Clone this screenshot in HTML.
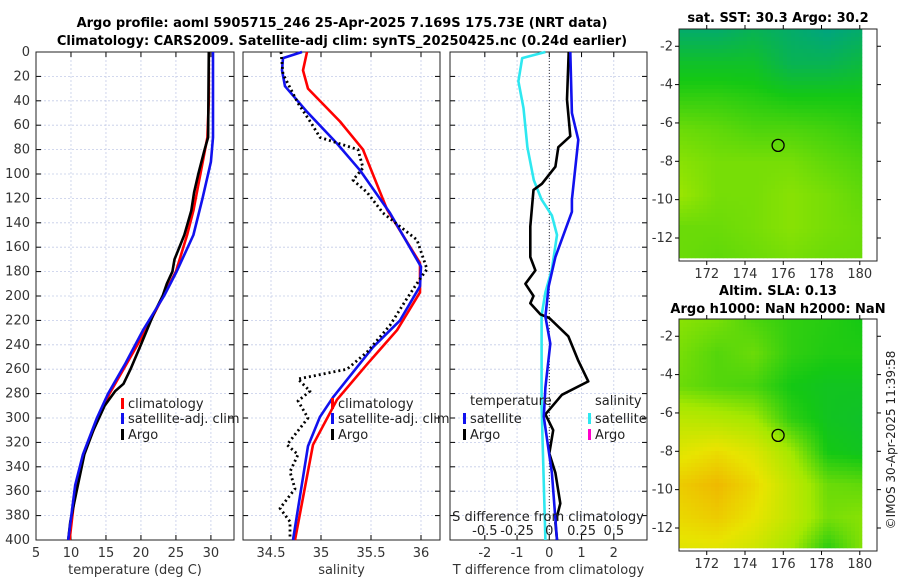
<!DOCTYPE html>
<html><head><meta charset="utf-8"><style>
html,body{margin:0;padding:0;background:#fff;width:900px;height:580px;overflow:hidden}
svg text{font-family:"DejaVu Sans","Liberation Sans",sans-serif}
</style></head><body>
<svg id="fig" width="900" height="580" viewBox="0 0 900 580" xmlns="http://www.w3.org/2000/svg">
<text x="342" y="27" text-anchor="middle" font-size="13" font-weight="bold">Argo profile: aoml 5905715_246 25-Apr-2025 7.169S 175.73E (NRT data)</text>
<text x="342" y="45" text-anchor="middle" font-size="13" font-weight="bold">Climatology: CARS2009. Satellite-adj clim: synTS_20250425.nc (0.24d earlier)</text>
<text x="778" y="22" text-anchor="middle" font-size="13" font-weight="bold">sat. SST: 30.3 Argo: 30.2</text>
<text x="778" y="295" text-anchor="middle" font-size="13" font-weight="bold">Altim. SLA: 0.13</text>
<text x="778" y="313" text-anchor="middle" font-size="13" font-weight="bold">Argo h1000: NaN h2000: NaN</text>
<text transform="translate(895,440) rotate(-90)" text-anchor="middle" font-size="12" fill="#222">©IMOS 30-Apr-2025 11:39:58</text>
<g id="plots"></g>
</svg>
<script>
// ---- data ----
const depthTicks=[0,20,40,60,80,100,120,140,160,180,200,220,240,260,280,300,320,340,360,380,400];
const tempTicks=[5,10,15,20,25,30];
const salTicks=[34.5,35,35.5,36];
const salTickLabels=["34.5","35","35.5","36"];
const tdiffTicks=[-2,-1,0,1,2];
const sdiffTicks=[-0.5,-0.25,0,0.25,0.5];
const sdiffTickLabels=["-0.5","-0.25","0","0.25","0.5"];

const tClimDepth=[0,40,70,100,130,150,180,200,230,260,280,300,330,360,400];
const tClimVal=[29.7,29.7,29.5,28.5,27.5,26.6,25.0,23.2,20.5,17.5,15.5,13.9,11.8,10.6,9.8];
const tSatDepth=[0,70,90,120,150,180,200,228,255,280,300,330,355,400];
const tSatVal=[30.3,30.3,30.0,28.8,27.5,25.1,23.3,20.3,17.8,15.3,13.7,11.7,10.6,9.6];
const tArgoDepth=[0,70,80,100,115,130,150,170,180,190,200,215,240,260,272,278,290,310,330,360,385,400];
const tArgoVal=[29.7,29.6,29.1,28.2,27.6,27.2,26.2,24.8,24.5,23.7,23.1,21.8,20.0,18.5,17.5,16.3,14.8,13.2,11.9,10.8,9.9,9.6];

const sClimDepth=[0,15,30,57,80,129,173,197,228,256,285,322,400];
const sClimVal=[34.86,34.82,34.87,35.19,35.42,35.66,35.99,35.99,35.76,35.46,35.16,34.92,34.74];
const sSatDepth=[0,5,15,28,49,75,97,132,176,192,220,242,283,299,323,400];
const sSatVal=[34.81,34.62,34.61,34.64,34.86,35.16,35.39,35.69,36.0,35.99,35.79,35.52,35.12,34.99,34.87,34.72];
const sArgoDepth=[0,18,42,58,70,80,95,105,115,132,154,178,186,202,224,246,260,268,278,286,300,322,330,344,358,374,385,400];
const sArgoVal=[34.6,34.62,34.77,34.9,34.99,35.37,35.42,35.32,35.46,35.62,35.96,36.06,35.99,35.86,35.69,35.46,35.26,34.77,34.89,34.77,34.87,34.66,34.77,34.69,34.74,34.59,34.69,34.69];

const dSatTDepth=[0,50,72,121,131,168,192,217,239,275,299,345,400];
const dSatTVal=[0.65,0.7,0.9,0.7,0.7,0.19,-0.02,-0.12,0.03,-0.12,-0.17,0.08,0.24];
const dArgoTDepth=[0,39,69,78,94,108,113,143,168,179,190,200,206,215,218,233,253,270,281,297,310,329,345,370,386,400];
const dArgoTVal=[0.6,0.55,0.65,0.28,0.19,-0.23,-0.49,-0.59,-0.59,-0.43,-0.74,-0.49,-0.59,-0.28,0,0.59,0.9,1.21,0.39,-0.12,0.12,0,0.19,0.34,0.19,0.24];
const dSatSDepth=[0,5,24,46,78,105,121,134,150,178,197,216,290,400];
const dSatSVal=[-0.03,-0.21,-0.24,-0.2,-0.17,-0.12,-0.06,0.02,0.06,0.02,-0.03,-0.06,-0.06,-0.03];

const mapLonTicks=[172,174,176,178,180];
const mapLatTicks=[-2,-4,-6,-8,-10,-12];
const sstGrid=[
[0.05,0.05,0.1,0.05,0.0,0.05],
[0.2,0.2,0.2,0.1,0.1,0.15],
[0.3,0.3,0.28,0.25,0.25,0.25],
[0.4,0.38,0.35,0.35,0.33,0.3],
[0.45,0.42,0.42,0.42,0.38,0.35],
[0.48,0.42,0.42,0.45,0.42,0.38],
[0.4,0.4,0.42,0.45,0.42,0.4],
[0.4,0.38,0.4,0.42,0.4,0.4]];
const slaGrid=[
[0.45,0.42,0.35,0.3,0.28,0.25],
[0.42,0.36,0.4,0.3,0.27,0.27],
[0.4,0.36,0.34,0.25,0.22,0.22],
[0.58,0.55,0.5,0.3,0.22,0.2],
[0.72,0.78,0.7,0.5,0.25,0.22],
[0.85,0.92,0.8,0.6,0.4,0.38],
[0.8,0.85,0.75,0.6,0.42,0.45],
[0.72,0.72,0.65,0.5,0.28,0.45]];

// ---- helpers ----
const NS="http://www.w3.org/2000/svg";
const root=document.getElementById('plots');
function mk(tag,attrs,parent){const e=document.createElementNS(NS,tag);for(const k in attrs)e.setAttribute(k,attrs[k]);(parent||root).appendChild(e);return e;}
const Y0=52,Y1=540;
function yD(d){return Y0+(d/400)*(Y1-Y0);}

function panel(name,x0,x1,xmin,xmax,xticks,xlabels,xtitle,showY){
  const g=mk('g',{});
  
  
  const xs=v=>x0+(v-xmin)/(xmax-xmin)*(x1-x0);
  xticks.forEach((t,i)=>{
    const gl=mk('line',{x1:xs(t),x2:xs(t),y1:Y0,y2:Y1,stroke:'#c4cce8','stroke-width':0.8,'stroke-dasharray':'2,2'},g);
    
    
    mk('line',{x1:xs(t),x2:xs(t),y1:Y1,y2:Y1-5,stroke:'#000'},g);
    mk('line',{x1:xs(t),x2:xs(t),y1:Y0,y2:Y0+5,stroke:'#000'},g);
    const tl=mk('text',{x:xs(t),y:Y1+17,'text-anchor':'middle','font-size':13,fill:'#333'},g);
    
    
    tl.textContent=xlabels?xlabels[i]:String(t);
  });
  depthTicks.forEach(d=>{
    const gl=mk('line',{x1:x0,x2:x1,y1:yD(d),y2:yD(d),stroke:'#c4cce8','stroke-width':0.8,'stroke-dasharray':'2,2'},g);
    
    
    mk('line',{x1:x0,x2:x0+5,y1:yD(d),y2:yD(d),stroke:'#000'},g);
    mk('line',{x1:x1,x2:x1-5,y1:yD(d),y2:yD(d),stroke:'#000'},g);
    if(showY){
      const tl=mk('text',{x:x0-6,y:yD(d)+4,'text-anchor':'end','font-size':13,fill:'#333'},g);
      
      
      tl.textContent=d;
    }
  });
  const fr=mk('rect',{x:x0,y:Y0,width:x1-x0,height:Y1-Y0,fill:'none',stroke:'#222','stroke-width':1},g);
  
  
  if(xtitle){
    const tt=mk('text',{x:(x0+x1)/2,y:Y1+34,'text-anchor':'middle','font-size':13,fill:'#333'},g);
    
    
    tt.textContent=xtitle;
  }
  return {g,xs};
}
function line(p,depths,vals,color,name,dash,scale){
  const pts=depths.map((d,i)=>p.xs(vals[i]*(scale||1)).toFixed(1)+','+yD(d).toFixed(1)).join(' ');
  const a={points:pts,fill:'none',stroke:color,'stroke-width':2.6,'stroke-linejoin':'round'};
  if(dash){a['stroke-dasharray']=dash;a['stroke-width']=2.8;}
  const e=mk('polyline',a,p.g);
  
  
}
function legendItem(g,x,y,color,label,name){
  const m=mk('rect',{x:x,y:y-10,width:3,height:11,fill:color},g);
  
  
  const t=mk('text',{x:x+7,y:y,'font-size':13,fill:'#222'},g);
  
  
  t.textContent=label;
}

// panel 1
const p1=panel('temperature-panel',36,234,5,33.3,tempTicks,null,'temperature (deg C)',true);
line(p1,tClimDepth,tClimVal,'#f00','temp-climatology-line');
line(p1,tArgoDepth,tArgoVal,'#000','temp-argo-line');
line(p1,tSatDepth,tSatVal,'#11e','temp-satellite-line');
legendItem(p1.g,121,408,'#f00','climatology','legend-climatology');
legendItem(p1.g,121,423,'#11e','satellite-adj. clim','legend-satellite');
legendItem(p1.g,121,439,'#000','Argo','legend-argo');

// panel 2
const p2=panel('salinity-panel',243,440,34.22,36.19,salTicks,salTickLabels,'salinity',false);
line(p2,sClimDepth,sClimVal,'#f00','sal-climatology-line');
line(p2,sSatDepth,sSatVal,'#11e','sal-satellite-line');
line(p2,sArgoDepth,sArgoVal,'#000','sal-argo-line','2,3');
legendItem(p2.g,331,408,'#f00','climatology','legend-climatology');
legendItem(p2.g,331,423,'#11e','satellite-adj. clim','legend-satellite');
legendItem(p2.g,331,439,'#000','Argo','legend-argo');

// panel 3
const p3=panel('difference-panel',450,647,-3.08,3.03,tdiffTicks,null,'T difference from climatology',false);
const zl=mk('line',{x1:p3.xs(0),x2:p3.xs(0),y1:Y0,y2:Y1,stroke:'#333','stroke-width':1,'stroke-dasharray':'1,2'},p3.g);


line(p3,dSatSDepth,dSatSVal,'#2ee8f0','sdiff-satellite-line',null,4);
line(p3,dArgoTDepth,dArgoTVal,'#000','tdiff-argo-line');
line(p3,dSatTDepth,dSatTVal,'#11e','tdiff-satellite-line');
[['temperature',470,405],['salinity',595,405]].forEach(a=>{
  const t=mk('text',{x:a[1],y:a[2],'font-size':13,fill:'#222'},p3.g);
  
  
  t.textContent=a[0];
});
legendItem(p3.g,463,423,'#11e','satellite','legend-t-satellite');
legendItem(p3.g,463,439,'#000','Argo','legend-t-argo');
legendItem(p3.g,588,423,'#2ee8f0','satellite','legend-s-satellite');
legendItem(p3.g,588,439,'#f0c','Argo','legend-s-argo');
const st=mk('text',{x:548,y:521,'text-anchor':'middle','font-size':13,fill:'#222'},p3.g);


st.textContent='S difference from climatology';
sdiffTicks.forEach((s,i)=>{
  const t=mk('text',{x:p3.xs(s*4),y:535,'text-anchor':'middle','font-size':13,fill:'#222'},p3.g);
  
  
  t.textContent=sdiffTickLabels[i];
});

// maps
function cmap(v){
  const st=[[0,[0,165,125]],[0.25,[20,200,20]],[0.5,[165,232,0]],[0.75,[232,228,0]],[1,[242,165,0]]];
  v=Math.max(0,Math.min(1,v));
  for(let i=1;i<st.length;i++){if(v<=st[i][0]){const a=st[i-1],b=st[i],f=(v-a[0])/(b[0]-a[0]);
    return 'rgb('+a[1].map((c,k)=>Math.round(c+(b[1][k]-c)*f)).join(',')+')';}}
}
function drawMap(name,grid,fx0,fy0,fx1,fy1,ix1,iy1,cell){
  const g=mk('g',{});
  
  
  const lon=v=>fx0+(v-170.55)/(180.9-170.55)*(fx1-fx0);
  const lat=v=>fy0+(-1.1-v)/(13.2-1.1)*(fy1-fy0);
  const R=grid.length,C=grid[0].length;
  for(let y=fy0;y<iy1;y+=cell){for(let x=fx0;x<ix1;x+=cell){
    const gx=(x-fx0)/(ix1-fx0)*(C-1),gy=(y-fy0)/(iy1-fy0)*(R-1);
    const i=Math.min(R-2,Math.floor(gy)),j=Math.min(C-2,Math.floor(gx)),fy=gy-i,fx=gx-j;
    const v=grid[i][j]*(1-fx)*(1-fy)+grid[i][j+1]*fx*(1-fy)+grid[i+1][j]*(1-fx)*fy+grid[i+1][j+1]*fx*fy;
    mk('rect',{x:x,y:y,width:Math.min(cell,ix1-x)+0.3,height:Math.min(cell,iy1-y)+0.3,fill:cmap(v)},g);
  }}
  const c=mk('circle',{cx:lon(175.73),cy:lat(-7.169),r:6,fill:'none',stroke:'#000','stroke-width':1.3},g);
  
  
  const fr=mk('rect',{x:fx0,y:fy0,width:fx1-fx0,height:fy1-fy0,fill:'none',stroke:'#222'},g);
  
  
  mapLonTicks.forEach(t=>{
    mk('line',{x1:lon(t),x2:lon(t),y1:fy1,y2:fy1+4,stroke:'#000'},g);
    mk('line',{x1:lon(t),x2:lon(t),y1:fy0,y2:fy0-4,stroke:'#000'},g);
    const tl=mk('text',{x:lon(t),y:fy1+17,'text-anchor':'middle','font-size':13,fill:'#333'},g);
    
    
    tl.textContent=t;
  });
  mapLatTicks.forEach(t=>{
    mk('line',{x1:fx0,x2:fx0-4,y1:lat(t),y2:lat(t),stroke:'#000'},g);
    mk('line',{x1:fx1,x2:fx1+4,y1:lat(t),y2:lat(t),stroke:'#000'},g);
    const tl=mk('text',{x:fx0-6,y:lat(t)+4,'text-anchor':'end','font-size':13,fill:'#333'},g);
    
    
    tl.textContent=t;
  });
}
drawMap('sst-map',sstGrid,679,29,877,261,862,258,4);
drawMap('sla-map',slaGrid,679,319,877,551,862,548,4);
</script>
</body></html>
